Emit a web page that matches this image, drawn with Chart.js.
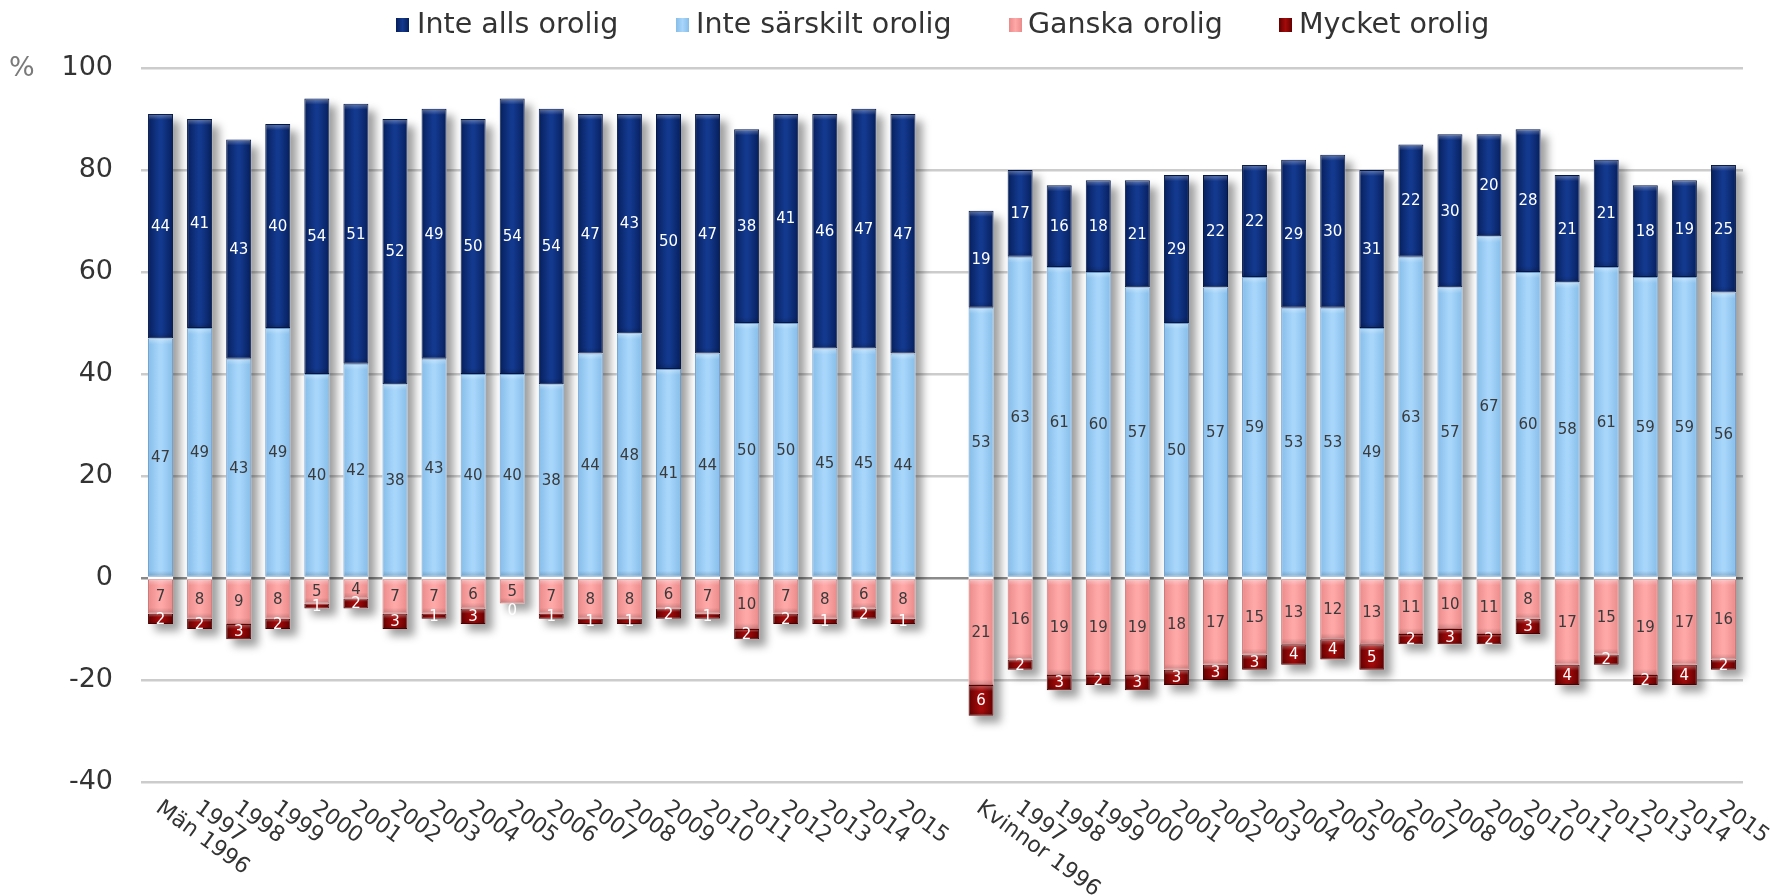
<!DOCTYPE html>
<html>
<head>
<meta charset="utf-8">
<script src="https://cdn.jsdelivr.net/npm/chart.js@4.4.1/dist/chart.umd.min.js"></script>
<style>
html,body{margin:0;padding:0;background:#fff;}
#wrap{width:1775px;height:895px;position:relative;}
</style>
</head>
<body>
<div id="wrap"><canvas id="c" width="1775" height="895"></canvas></div>
<script>
const categories = ["Män 1996","1997","1998","1999","2000","2001","2002","2003","2004","2005","2006","2007","2008","2009","2010","2011","2012","2013","2014","2015",
  "",
  "Kvinnor 1996","1997","1998","1999","2000","2001","2002","2003","2004","2005","2006","2007","2008","2009","2010","2011","2012","2013","2014","2015"];

const inteAllsOrolig = [44,41,43,40,54,51,52,49,50,54,54,47,43,50,47,38,41,46,47,47,
  null,
  19,17,16,18,21,29,22,22,29,30,31,22,30,20,28,21,21,18,19,25];
const inteSarskiltOrolig = [47,49,43,49,40,42,38,43,40,40,38,44,48,41,44,50,50,45,45,44,
  null,
  53,63,61,60,57,50,57,59,53,53,49,63,57,67,60,58,61,59,59,56];
const ganskaOrolig = [7,8,9,8,5,4,7,7,6,5,7,8,8,6,7,10,7,8,6,8,
  null,
  21,16,19,19,19,18,17,15,13,12,13,11,10,11,8,17,15,19,17,16];
const mycketOrolig = [2,2,3,2,1,2,3,1,3,0,1,1,1,2,1,2,2,1,2,1,
  null,
  6,2,3,2,3,3,3,3,4,4,5,2,3,2,3,4,2,2,4,2];

const yTicks = [-40,-20,0,20,40,60,80,100];

const seriesLabels = ["Inte alls orolig","Inte särskilt orolig","Ganska orolig","Mycket orolig"];

const BAR_PCT = 0.64;

function barGradient(edge, mid) {
  return function(ctx) {
    const chart = ctx.chart;
    const xs = chart.scales && chart.scales.x;
    if (!xs || !chart.chartArea || ctx.type !== 'data') return mid;
    const x = xs.getPixelForValue(ctx.dataIndex);
    const w = (xs.width / categories.length) * BAR_PCT;
    const g = chart.ctx.createLinearGradient(x - w/2, 0, x + w/2, 0);
    g.addColorStop(0, edge);
    g.addColorStop(0.45, mid);
    g.addColorStop(0.55, mid);
    g.addColorStop(1, edge);
    return g;
  };
}

const neg = a => a.map(v => v === null ? null : -v);

const labelColors = ["#ffffff","#3a3a3a","#3a3a3a","#ffffff"];

function isNegDataset(chart, di) { return chart.data.datasets[di].negative === true; }

const shadowPlugin = {
  id: 'shadowAndLabels',
  beforeDatasetsDraw(chart) {
    const ctx = chart.ctx;
    const metas = chart.data.datasets.map((d, i) => chart.getDatasetMeta(i));
    ctx.save();
    ctx.shadowColor = 'rgba(0,0,0,0.38)';
    ctx.shadowBlur = 9;
    ctx.shadowOffsetX = 7;
    ctx.shadowOffsetY = 7;
    ctx.fillStyle = '#ffffff';
    for (let i = 0; i < categories.length; i++) {
      let top = Infinity, bot = -Infinity, x = null, w = 0;
      metas.forEach(m => {
        const el = m.data[i];
        const v = chart.data.datasets[m.index].data[i];
        if (!el || v === null || v === 0) return;
        top = Math.min(top, el.y, el.base);
        bot = Math.max(bot, el.y, el.base);
        x = el.x; w = el.width;
      });
      if (x === null) continue;
      ctx.fillRect(x - w/2, top, w, bot - top);
    }
    ctx.restore();
  },
  afterDatasetsDraw(chart) {
    const ctx = chart.ctx;
    ctx.save();
    // bevel highlights on each segment
    chart.data.datasets.forEach((ds, di) => {
      const meta = chart.getDatasetMeta(di);
      meta.data.forEach((el, i) => {
        const v = ds.data[i];
        if (v === null || v === 0) return;
        const top = Math.min(el.y, el.base), bot = Math.max(el.y, el.base);
        const h = bot - top;
        const bh = Math.min(6, h / 3);
        const x0 = el.x - el.width / 2 + 1, w = el.width - 2;
        const g = ctx.createLinearGradient(0, top, 0, top + bh);
        g.addColorStop(0, 'rgba(255,255,255,0.35)');
        g.addColorStop(1, 'rgba(255,255,255,0)');
        ctx.fillStyle = g;
        ctx.fillRect(x0, top + 1, w, bh);
        const g2 = ctx.createLinearGradient(0, bot - bh, 0, bot);
        g2.addColorStop(0, 'rgba(0,0,0,0)');
        g2.addColorStop(1, 'rgba(0,0,0,0.18)');
        ctx.fillStyle = g2;
        ctx.fillRect(x0, bot - bh, w, bh - 1);
      });
    });
    // value labels
    ctx.font = '15px "DejaVu Sans", Verdana, sans-serif';
    ctx.textAlign = 'center';
    ctx.textBaseline = 'middle';
    chart.data.datasets.forEach((ds, di) => {
      const meta = chart.getDatasetMeta(di);
      meta.data.forEach((el, i) => {
        const v = ds.data[i];
        if (v === null || v === undefined) return;
        let y = (el.y + el.base) / 2 + 1;
        if (v === 0 && ds.negative) {
          // zero in the negative stack: place it under the previous negative segment
          let bottom = chart.scales.y.getPixelForValue(0);
          chart.data.datasets.forEach((d2, dj) => {
            if (dj < di && d2.negative && d2.data[i] !== null) {
              const e2 = chart.getDatasetMeta(dj).data[i];
              bottom = Math.max(bottom, e2.y, e2.base);
            }
          });
          y = bottom + 8;
        }
        ctx.fillStyle = ds.labelColor;
        ctx.fillText(String(Math.abs(v)), el.x, y);
      });
    });
    ctx.restore();
  },
  afterDraw(chart) {
    const ctx = chart.ctx;
    const xs = chart.scales.x;
    const area = chart.chartArea;
    ctx.save();
    // x tick labels, rotated clockwise
    ctx.font = '22px "DejaVu Sans", Verdana, sans-serif';
    ctx.fillStyle = '#333333';
    ctx.textAlign = 'left';
    ctx.textBaseline = 'top';
    categories.forEach((c, i) => {
      if (!c) return;
      const x = xs.getPixelForValue(i);
      ctx.save();
      ctx.translate(x + 4, area.bottom + 15);
      ctx.rotate(36 * Math.PI / 180);
      ctx.fillText(c, 0, 0);
      ctx.restore();
    });
    // % unit label
    ctx.font = '27px "DejaVu Sans", Verdana, sans-serif';
    ctx.fillStyle = '#7a7a7a';
    ctx.textAlign = 'left';
    ctx.textBaseline = 'middle';
    ctx.fillText('%', 9, chart.scales.y.getPixelForValue(100) + 1);
    // legend
    const order = [1, 0, 2, 3]; // dataset indices in legend order
    const boxX = [396, 676, 1009, 1279];
    const textX = [417, 696, 1028, 1299];
    const ly = 25;
    ctx.font = '28.5px "DejaVu Sans", Verdana, sans-serif';
    order.forEach((di, k) => {
      const ds = chart.data.datasets[di];
      const g = ctx.createLinearGradient(boxX[k], 0, boxX[k] + 13, 0);
      g.addColorStop(0, ds.edgeColor);
      g.addColorStop(0.5, ds.midColor);
      g.addColorStop(1, ds.edgeColor);
      ctx.fillStyle = g;
      ctx.fillRect(boxX[k], ly - 7, 13, 14);
      ctx.fillStyle = '#333333';
      ctx.fillText(ds.label, textX[k], ly + 1);
    });
    ctx.restore();
  }
};

const colors = {
  alls: {edge: '#061f5c', mid: '#13398e'},
  sarskilt: {edge: '#86bde9', mid: '#a8d6fb'},
  ganska: {edge: '#ea8a8a', mid: '#ffa8a8'},
  mycket: {edge: '#640000', mid: '#a40a0a'}
};

const datasets = [
  {label: seriesLabels[1], data: inteSarskiltOrolig, c: colors.sarskilt, labelColor: labelColors[1], border: '#6d9ccb', negative: false},
  {label: seriesLabels[0], data: inteAllsOrolig, c: colors.alls, labelColor: labelColors[0], border: '#041645', negative: false},
  {label: seriesLabels[2], data: neg(ganskaOrolig), c: colors.ganska, labelColor: labelColors[2], border: '#c97070', negative: true},
  {label: seriesLabels[3], data: neg(mycketOrolig), c: colors.mycket, labelColor: labelColors[3], border: '#4a0000', negative: true}
].map(d => ({
  label: d.label,
  data: d.data,
  negative: d.negative,
  labelColor: d.labelColor,
  edgeColor: d.c.edge,
  midColor: d.c.mid,
  backgroundColor: barGradient(d.c.edge, d.c.mid),
  borderColor: d.border,
  borderWidth: 1,
  borderSkipped: false,
  barPercentage: BAR_PCT,
  categoryPercentage: 1.0
}));

new Chart(document.getElementById('c'), {
  type: 'bar',
  data: {labels: categories, datasets: datasets},
  options: {
    responsive: false,
    animation: false,
    layout: {padding: {top: 68, right: 32, bottom: 0, left: 0}},
    plugins: {legend: {display: false}, tooltip: {enabled: false}},
    scales: {
      x: {
        stacked: true,
        grid: {display: false},
        border: {display: false},
        ticks: {display: false},
        afterFit(s) { s.height = 113; }
      },
      y: {
        stacked: true,
        min: -40, max: 100,
        afterBuildTicks(s) { s.ticks = yTicks.map(v => ({value: v})); },
        ticks: {
          font: {size: 27, family: '"DejaVu Sans", Verdana, sans-serif'},
          color: '#333333',
          padding: 28
        },
        grid: {
          drawTicks: false,
          color: c => c.tick && c.tick.value === 0 ? '#8a8a8a' : '#cccccc',
          lineWidth: c => 2.5
        },
        border: {display: false},
        afterFit(s) { s.width = 141; }
      }
    }
  },
  plugins: [shadowPlugin]
});
</script>
</body>
</html>
